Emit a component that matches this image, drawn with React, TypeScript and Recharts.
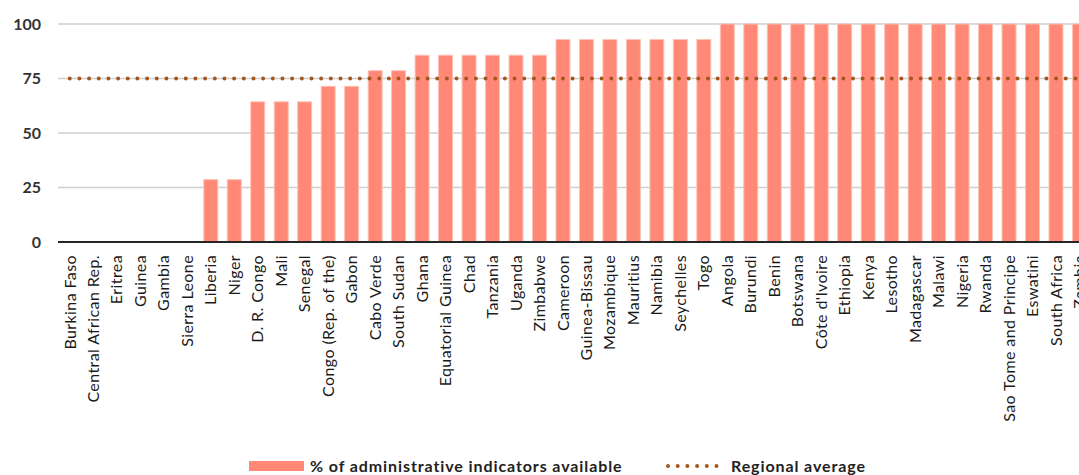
import { Bar, Line, XAxis, YAxis, CartesianGrid, Legend, ComposedChart } from 'recharts'

const countries = [
  'Burkina Faso', 'Central African Rep.', 'Eritrea', 'Guinea', 'Gambia', 'Sierra Leone',
  'Liberia', 'Niger', 'D. R. Congo', 'Mali', 'Senegal', 'Congo (Rep. of the)', 'Gabon',
  'Cabo Verde', 'South Sudan', 'Ghana', 'Equatorial Guinea', 'Chad', 'Tanzania', 'Uganda',
  'Zimbabwe', 'Cameroon', 'Guinea-Bissau', 'Mozambique', 'Mauritius', 'Namibia', 'Seychelles',
  'Togo', 'Angola', 'Burundi', 'Benin', 'Botswana', "Côte d'Ivoire", 'Ethiopia', 'Kenya',
  'Lesotho', 'Madagascar', 'Malawi', 'Nigeria', 'Rwanda', 'Sao Tome and Principe', 'Eswatini',
  'South Africa', 'Zambia',
]

const indicatorsAvailable = [
  0, 0, 0, 0, 0, 0,
  28.6, 28.6, 64.3, 64.3, 64.3, 71.4, 71.4,
  78.6, 78.6, 85.7, 85.7, 85.7, 85.7, 85.7,
  85.7, 92.9, 92.9, 92.9, 92.9, 92.9, 92.9,
  92.9, 100, 100, 100, 100, 100, 100, 100,
  100, 100, 100, 100, 100, 100, 100,
  100, 100,
]

const regionalAverage = 75

const yTicks = [0, 25, 50, 75, 100]

const data = countries.map((name, i) => ({
  name,
  value: indicatorsAvailable[i],
  avg: regionalAverage,
}))

const BAR_COLOR = '#FF8877'
const AVG_COLOR = '#A5561C'
const FONT = 'Lato, "Noto Sans", sans-serif'

function CountryTick({ x, y, payload }: any) {
  return (
    <text
      transform={`translate(${x}, ${y + 13}) rotate(-90)`}
      textAnchor="end"
      dy="0.36em"
      fontSize={16}
      letterSpacing={0.4}
      fontFamily={FONT}
      fill="#1a1a1a"
    >
      {payload.value}
    </text>
  )
}

function LegendContent() {
  const text = { position: 'absolute' as const, top: 4, lineHeight: '22px', whiteSpace: 'nowrap' as const }
  return (
    <div
      style={{
        position: 'relative',
        fontFamily: FONT,
        fontWeight: 700,
        fontSize: 16,
        letterSpacing: 0.9,
        color: '#222',
        height: 24,
      }}
    >
      <span style={{ position: 'absolute', left: 249, top: 10, width: 55, height: 10, background: BAR_COLOR }} />
      <span style={{ ...text, left: 310 }}>% of administrative indicators available</span>
      <svg width={60} height={10} style={{ position: 'absolute', left: 664, top: 10 }}>
        <line
          x1={4}
          y1={5}
          x2={56}
          y2={5}
          stroke={AVG_COLOR}
          strokeWidth={4}
          strokeDasharray="0 9.7"
          strokeLinecap="round"
        />
      </svg>
      <span style={{ ...text, left: 731 }}>Regional average</span>
    </div>
  )
}

export default function App() {
  return (
    <div style={{ position: 'absolute', left: 0, top: 0, width: 1079, height: 475, overflow: 'hidden', background: '#fff' }}>
      <ComposedChart
        width={1100}
        height={475}
        data={data}
        margin={{ top: 24, right: 9, left: 0, bottom: 0 }}
        barCategoryGap="21%"
      >
        <CartesianGrid vertical={false} stroke="#cfcfcf" strokeWidth={1.5} />
        <XAxis
          dataKey="name"
          interval={0}
          height={209}
          tickLine={false}
          tickSize={0}
          tickMargin={0}
          axisLine={{ stroke: '#262626', strokeWidth: 2 }}
          tick={<CountryTick />}
        />
        <YAxis
          width={58}
          domain={[0, 100]}
          ticks={yTicks}
          axisLine={false}
          tickLine={false}
          tickSize={0}
          tickMargin={17}
          tick={{ fontSize: 16, fontFamily: FONT, fontWeight: 700, fill: '#333' }}
        />
        <Legend verticalAlign="bottom" height={24} content={<LegendContent />} wrapperStyle={{ left: 0, width: 1100 }} />
        <Bar dataKey="value" fill={BAR_COLOR} stroke="#FFC2B8" strokeWidth={1} isAnimationActive={false} />
        <Line
          dataKey="avg"
          stroke={AVG_COLOR}
          strokeWidth={4}
          strokeDasharray="0 9.67"
          strokeLinecap="round"
          dot={false}
          activeDot={false}
          isAnimationActive={false}
        />
      </ComposedChart>
    </div>
  )
}
